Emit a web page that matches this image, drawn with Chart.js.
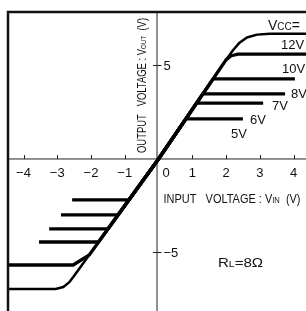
<!DOCTYPE html>
<html>
<head>
<meta charset="utf-8">
<script src="https://cdn.jsdelivr.net/npm/chart.js@4/dist/chart.umd.min.js"></script>
<style>
  html, body { margin: 0; padding: 0; background: #fff; }
  canvas { display: block; }
</style>
</head>
<body>
<canvas id="transferChart" width="306" height="311"></canvas>
<script>
// Input voltage (V) -> output voltage (V), one pair per supply voltage
const vcc14In  = [-4.6, -3.05, -2.82, -2.65, -2.5, -2.14, 0, 2.0, 2.2, 2.4, 2.62, 2.92, 3.30, 4.6];
const vcc14Out = [-6.95, -6.95, -6.85, -6.6, -6.25, -5.35, 0, 5.30, 5.8, 6.22, 6.50, 6.65, 6.70, 6.70];
const vcc12In  = [-4.6, -2.53, -2.05, 0, 2.0, 2.15, 2.36, 4.6];
const vcc12Out = [-5.67, -5.67, -5.13, 0, 5.30, 5.52, 5.61, 5.61];
const vcc10In  = [-3.54, -1.78, 0, 1.62, 4.04];
const vcc10Out = [-4.44, -4.44, 0, 4.28, 4.28];
const vcc8In   = [-3.24, -1.50, 0, 1.31, 3.75];
const vcc8Out  = [-3.74, -3.74, 0, 3.48, 3.48];
const vcc7In   = [-2.89, -1.20, 0, 1.13, 3.10];
const vcc7Out  = [-2.99, -2.99, 0, 2.99, 2.99];
const vcc6In   = [-2.56, -0.88, 0, 0.81, 2.50];
const vcc6Out  = [-2.19, -2.19, 0, 2.14, 2.14];

const supplyLabels = ['12V', '10V', '8V', '7V', '6V', '5V'];
const xTickValues = [-4, -3, -2, -1, 1, 2, 3, 4];
const yTickValues = [5, -5];

const FONT = "'Liberation Sans', Arial, sans-serif";

function toPoints(xs, ys) {
    return xs.map((x, i) => ({ x: x, y: ys[i] }));
}

function curve(xs, ys, width) {
    return {
        data: toPoints(xs, ys),
        showLine: true,
        borderColor: '#000',
        borderWidth: width,
        pointRadius: 0,
        fill: false,
        tension: 0,
        borderJoinStyle: 'round',
        borderCapStyle: 'butt'
    };
}

// draw text runs of different sizes one after another, optionally squeezed to a width
function textRuns(ctx, parts, x, y, width) {
    let total = 0;
    parts.forEach(([t, s]) => { ctx.font = s + 'px ' + FONT; total += ctx.measureText(t).width; });
    const k = width ? width / total : 1;
    ctx.save();
    ctx.translate(x, y);
    ctx.scale(k, 1);
    let cx = 0;
    parts.forEach(([t, s]) => {
        ctx.font = s + 'px ' + FONT;
        ctx.fillText(t, cx, 0);
        cx += ctx.measureText(t).width;
    });
    ctx.restore();
}

const axesPlugin = {
    id: 'axesPlugin',
    beforeDatasetsDraw(chart) {
        const { ctx, scales: { x, y } } = chart;
        const ox = x.getPixelForValue(0), oy = y.getPixelForValue(0);
        const area = chart.chartArea;
        ctx.save();
        ctx.strokeStyle = '#222';
        ctx.lineWidth = 1;
        ctx.beginPath();
        ctx.moveTo(area.left, oy); ctx.lineTo(area.right, oy);
        ctx.moveTo(ox - 1.5, area.top); ctx.lineTo(ox - 1.5, area.bottom);
        xTickValues.forEach(v => {
            const px = Math.round(x.getPixelForValue(v)) + 0.5;
            ctx.moveTo(px, oy - 4); ctx.lineTo(px, oy);
        });
        yTickValues.forEach(v => {
            const py = Math.round(y.getPixelForValue(v)) + 0.5;
            ctx.moveTo(ox - 5.5, py); ctx.lineTo(ox + 3, py);
        });
        ctx.stroke();
        ctx.restore();
    },
    afterDatasetsDraw(chart) {
        const { ctx, scales: { x, y } } = chart;
        const ox = x.getPixelForValue(0), oy = y.getPixelForValue(0);
        const area = chart.chartArea;
        ctx.save();
        // frame (only the top and left edges fall inside the picture)
        ctx.strokeStyle = '#111';
        ctx.lineWidth = 2.5;
        ctx.beginPath();
        ctx.moveTo(area.left, area.bottom + 2);
        ctx.lineTo(area.left, area.top);
        ctx.lineTo(area.right + 2, area.top);
        ctx.stroke();

        ctx.fillStyle = '#111';
        ctx.textBaseline = 'alphabetic';
        ctx.font = '13px ' + FONT;
        ctx.textAlign = 'center';
        xTickValues.forEach(v => {
            ctx.fillText(v < 0 ? '\u2212' + Math.abs(v) : String(v), x.getPixelForValue(v), oy + 18);
        });
        ctx.fillText('0', ox + 7.5, oy + 18);
        ctx.textAlign = 'left';
        yTickValues.forEach(v => {
            ctx.fillText(v < 0 ? '\u2212' + Math.abs(v) : String(v), ox + 5, y.getPixelForValue(v) + 4.5);
        });

        // axis titles
        textRuns(ctx, [['INPUT   VOLTAGE : V', 13], ['IN', 9], ['  (V)', 13]], ox + 5, oy + 44, 137);
        ctx.save();
        ctx.translate(ox - 13, oy - 6);
        ctx.rotate(-Math.PI / 2);
        textRuns(ctx, [['OUTPUT   VOLTAGE : V', 12], ['OUT', 8], ['  (V)', 12]], 0, 0, 135);
        ctx.restore();

        // supply voltage labels
        textRuns(ctx, [['V', 14], ['CC', 10], ['=', 14]], 268, 29.5);
        const spots = [[281, 49], [282, 73], [291, 98], [272, 110], [250, 124], [231, 138]];
        ctx.font = '13px ' + FONT;
        supplyLabels.forEach((t, i) => ctx.fillText(t, spots[i][0], spots[i][1]));

        textRuns(ctx, [['R', 13], ['L', 9], ['=8', 13], ['\u03A9', 13]], 218, 266.5, 45);
        ctx.restore();
    }
};

new Chart(document.getElementById('transferChart'), {
    type: 'scatter',
    data: {
        datasets: [
            curve(vcc14In, vcc14Out, 2.5),
            curve(vcc12In, vcc12Out, 3.3),
            curve(vcc10In, vcc10Out, 3.3),
            curve(vcc8In, vcc8Out, 3.3),
            curve(vcc7In, vcc7Out, 3.3),
            curve(vcc6In, vcc6Out, 3.3)
        ]
    },
    options: {
        responsive: false,
        animation: false,
        layout: { padding: { left: 8, top: 12, right: 0, bottom: 0 } },
        scales: {
            x: { type: 'linear', min: -4.46, max: 4.37, display: false },
            y: { type: 'linear', min: -8.13, max: 7.86, display: false }
        },
        plugins: {
            legend: { display: false },
            tooltip: { enabled: false }
        }
    },
    plugins: [axesPlugin]
});
</script>
</body>
</html>
